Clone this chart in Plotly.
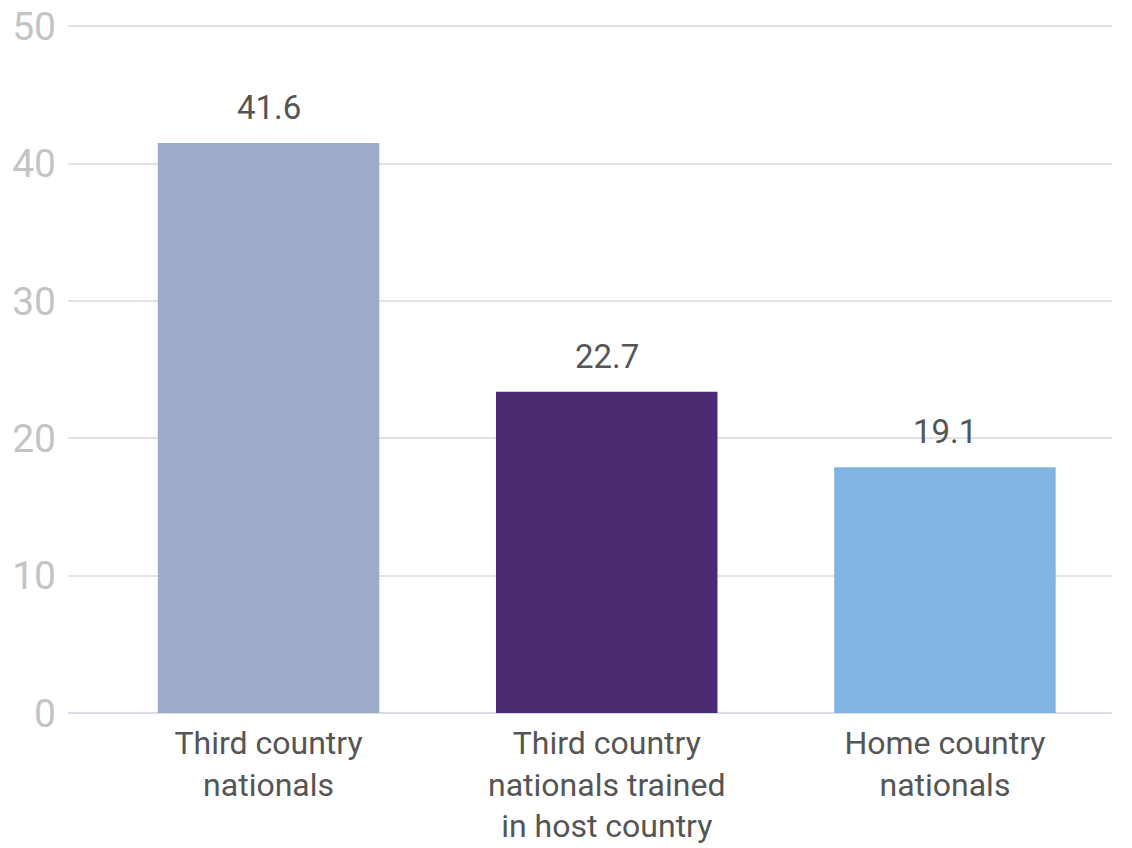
import plotly.graph_objects as go

categories = ["Third country<br>nationals",
              "Third country<br>nationals trained<br>in host country",
              "Home country<br>nationals"]
bar_values = [41.5, 23.4, 17.9]
value_labels = ["41.6", "22.7", "19.1"]
colors = ["#A0AACB", "#4C2A72", "#80B5E2"]
y_ticks = [0, 10, 20, 30, 40, 50]

fig = go.Figure()
fig.add_trace(go.Bar(
    x=list(range(len(categories))),
    y=bar_values,
    marker=dict(color=colors, line=dict(width=0)),
    width=0.655,
    hoverinfo="skip",
))

for i, (v, lab) in enumerate(zip(bar_values, value_labels)):
    fig.add_annotation(x=i, y=v, text=lab, showarrow=False,
                       yanchor="bottom", yshift=14,
                       font=dict(size=33, color="#555555", family="Roboto"))

fig.update_layout(
    width=1132, height=848,
    margin=dict(l=68, r=20, t=25, b=135),
    paper_bgcolor="white", plot_bgcolor="white",
    showlegend=False,
    font=dict(family="Roboto"),
    xaxis=dict(
        range=[-0.593, 2.494],
        tickmode="array",
        tickvals=list(range(len(categories))),
        ticktext=categories,
        tickfont=dict(size=32, color="#555555"),
        showgrid=False, zeroline=False, showline=False,
        ticks="", ticklabelstandoff=8, automargin=False,
        ticklabeloverflow="allow",
    ),
    yaxis=dict(
        range=[0, 50.1],
        tickvals=y_ticks,
        tickfont=dict(size=39, color="#C4C4C4"),
        showgrid=True, gridcolor="#E3E3E3", gridwidth=1.5,
        zeroline=True, zerolinecolor="#D8DCE4", zerolinewidth=2,
        showline=False, ticks="", ticklabelstandoff=11, automargin=False,
        ticklabeloverflow="allow",
    ),
)

fig.write_html("out.html",
               config={"displayModeBar": False},
               post_script="document.body.style.margin='0';document.body.style.overflow='hidden';")
